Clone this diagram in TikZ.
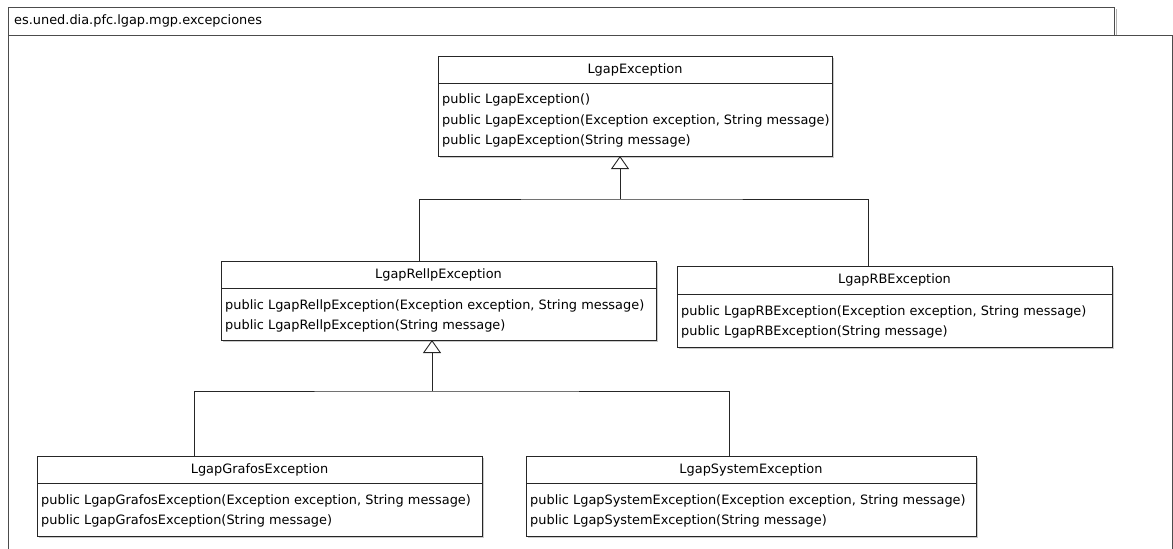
\documentclass[tikz,border=0pt]{standalone}
\usepackage{fontspec}
\setmainfont{DejaVu Sans}
\usetikzlibrary{arrows.meta,shadows}
\newcommand\umlfont{\fontsize{12.9}{15}\selectfont}
\begin{document}
\begin{tikzpicture}[x=1pt,y=-1pt,
  classbox/.style={draw=black!85, fill=white, line width=0.9pt, inner sep=0pt, outer sep=0pt,
    anchor=north west, drop shadow={shadow xshift=1.5pt, shadow yshift=-1.5pt, fill=black!35, opacity=0.6}},
  umltxt/.style={inner sep=0pt, anchor=base west, font=\umlfont, text=black},
  umltitle/.style={inner sep=0pt, anchor=base, font=\umlfont, text=black},
  divider/.style={draw=black!85, line width=0.9pt},
  pkgline/.style={draw=black!70, line width=0.9pt},
  link/.style={draw=black!85, line width=0.9pt},
  inherit/.style={link, -{Triangle[open, width=18pt, length=13pt]}}]
\useasboundingbox (0,0) rectangle (1173,549);

% package frame with its tab
\fill[black!30] (1116,9) rectangle (1117,35);
\draw[pkgline, fill=white] (8,7) rectangle (1114,35);
\node[umltxt] (pkg) at (14,24) {es.uned.dia.pfc.lgap.mgp.excepciones};
\draw[pkgline] (8,560) -- (8,35) -- (1172,35) -- (1172,560);

% LgapException
\node[classbox, minimum width=394pt, minimum height=100pt] (E) at (438,56) {};
\draw[divider] (438,83) -- (832,83);
\node[umltitle] (Et) at (635,73) {LgapException};
\node[umltxt] (Eo1) at (442,103) {public LgapException()};
\node[umltxt] (Eo2) at (442,124) {public LgapException(Exception exception, String message)};
\node[umltxt] (Eo3) at (442,144) {public LgapException(String message)};

% LgapRellpException
\node[classbox, minimum width=435pt, minimum height=79pt] (R) at (221,261) {};
\draw[divider] (221,288) -- (656,288);
\node[umltitle] (Rt) at (438.5,278) {LgapRellpException};
\node[umltxt] (Ro1) at (225,309) {public LgapRellpException(Exception exception, String message)};
\node[umltxt] (Ro2) at (225,329) {public LgapRellpException(String message)};

% LgapRBException
\node[classbox, minimum width=435pt, minimum height=81pt] (B) at (677,266) {};
\draw[divider] (677,294) -- (1112,294);
\node[umltitle] (Bt) at (894.5,283) {LgapRBException};
\node[umltxt] (Bo1) at (681,315) {public LgapRBException(Exception exception, String message)};
\node[umltxt] (Bo2) at (681,335) {public LgapRBException(String message)};

% LgapGrafosException
\node[classbox, minimum width=445pt, minimum height=80pt] (G) at (37,456) {};
\draw[divider] (37,483) -- (482,483);
\node[umltitle] (Gt) at (259.5,473) {LgapGrafosException};
\node[umltxt] (Go1) at (41,504) {public LgapGrafosException(Exception exception, String message)};
\node[umltxt] (Go2) at (41,524) {public LgapGrafosException(String message)};

% LgapSystemException
\node[classbox, minimum width=450pt, minimum height=80pt] (S) at (526,456) {};
\draw[divider] (526,483) -- (976,483);
\node[umltitle] (St) at (751,473) {LgapSystemException};
\node[umltxt] (So1) at (530,504) {public LgapSystemException(Exception exception, String message)};
\node[umltxt] (So2) at (530,524) {public LgapSystemException(String message)};

% generalisations
\coordinate (Ehub) at (620,199);
\draw[inherit] (Ehub) -- (Ehub |- E.south);
\draw[link] ([xshift=-19.5pt]R.north) |- (Ehub) -| ([xshift=-26.5pt]B.north);

\coordinate (Rhub) at (432,391);
\draw[inherit] (Rhub) -- (Rhub |- R.south);
\draw[link] ([xshift=-65.5pt]G.north) |- (Rhub) -| ([xshift=-22pt]S.north);
\end{tikzpicture}
\end{document}
